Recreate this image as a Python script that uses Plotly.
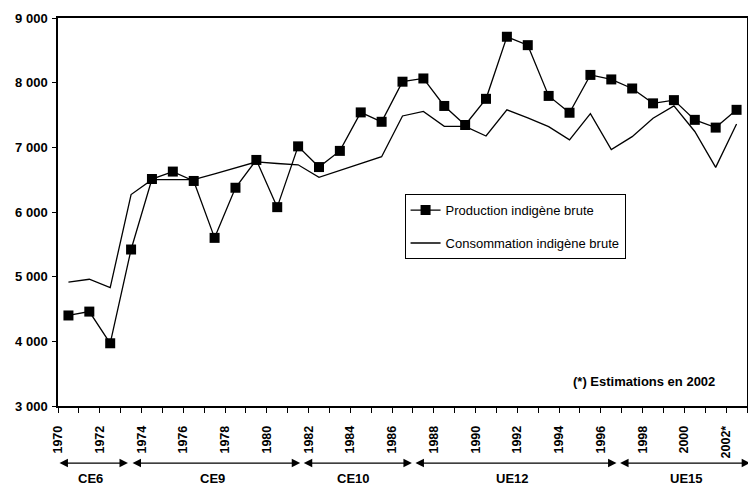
import plotly.graph_objects as go

years = list(range(1970, 2003))
production = [4400, 4460, 3970, 5420, 6510, 6625, 6480, 5600, 6375, 6805, 6075, 7015,
              6695, 6945, 7540, 7395, 8015, 8065, 7640, 7345, 7750, 8710, 8580, 7795,
              7535, 8120, 8050, 7910, 7680, 7730, 7425, 7305, 7580]
consommation = [4915, 4960, 4830, 6270, 6500, 6500, 6500, 6590, 6680, 6775, 6750, 6730,
                6535, 6640, 6750, 6855, 7485, 7555, 7325, 7325, 7175, 7580, 7455, 7320,
                7115, 7520, 6965, 7165, 7450, 7640, 7245, 6690, 7360]

label_years = list(range(1970, 2003, 2))
tick_labels = [str(y) for y in label_years[:-1]] + ["2002*"]
y_ticks = [3000, 4000, 5000, 6000, 7000, 8000, 9000]

eras = ["CE6", "CE9", "CE10", "UE12", "UE15"]
era_start = [1969.5, 1973.0, 1981.2, 1986.55, 1996.35]
era_end = [1972.85, 1981.1, 1986.45, 1996.25, 2002.65]
era_label_x = [1971.05, 1976.9, 1983.65, 1991.25, 1999.6]

FONT = "Liberation Sans, Arial, sans-serif"

fig = go.Figure()
fig.add_trace(go.Scatter(
    x=years, y=production, mode="lines+markers", name="Production indigène brute",
    line=dict(color="black", width=1.3), legendgroup="prod",
    marker=dict(symbol="square", size=10, color="black"),
))
fig.add_trace(go.Scatter(
    x=years, y=consommation, mode="lines", name="Consommation indigène brute",
    line=dict(color="black", width=1.3), legendgroup="cons",
))

tickvals = [y - 0.5 for y in years] + [years[-1] + 0.5]
ticktext = []
for tv in tickvals:
    yr = int(tv + 0.5)
    if yr in label_years:
        ticktext.append(tick_labels[label_years.index(yr)])
    else:
        ticktext.append("")

# page body has an 8px margin: figure is sized/offset to compensate
fig.update_layout(
    width=748, height=477,
    margin=dict(l=50, r=9, t=10, b=79),
    plot_bgcolor="white", paper_bgcolor="white",
    separators=", ",
    font=dict(family=FONT, color="black"),
    showlegend=True,
    legend=dict(
        x=0.503, y=0.546, xanchor="left", yanchor="top",
        bgcolor="white", bordercolor="black", borderwidth=1,
        font=dict(family=FONT, size=13, color="black"),
        traceorder="grouped", tracegroupgap=13, itemwidth=30,
    ),
    xaxis=dict(
        range=[years[0] - 0.5, years[-1] + 0.5],
        tickmode="array", tickvals=tickvals, ticktext=ticktext,
        tickangle=-90, ticks="outside", ticklen=5, tickwidth=1.3, tickcolor="black",
        showline=True, linecolor="black", linewidth=1.5, mirror=True,
        showgrid=False, zeroline=False,
        tickfont=dict(family=FONT, size=12.5, color="black", weight="bold"),
        ticklabelstandoff=8,
        automargin=False,
    ),
    yaxis=dict(
        range=[3000, 9000], tickmode="array", tickvals=y_ticks,
        tickformat=",.0f",
        ticks="outside", ticklen=4, tickwidth=1.3, tickcolor="black",
        showline=True, linecolor="black", linewidth=1.5, mirror=True,
        showgrid=False, zeroline=False,
        tickfont=dict(family=FONT, size=13, color="black", weight="bold"),
        ticklabelstandoff=2,
        automargin=False,
    ),
)

for name, s, e, lx in zip(eras, era_start, era_end, era_label_x):
    fig.add_annotation(
        x=e, y=-0.147, ax=s, ay=0, xref="x", yref="paper", axref="x", ayref="pixel",
        text="", showarrow=True, arrowhead=2, arrowside="end+start",
        arrowsize=1.3, arrowwidth=1.3, arrowcolor="black",
    )
    fig.add_annotation(
        x=lx, y=-0.187, xref="x", yref="paper", text=name, showarrow=False,
        font=dict(family=FONT, size=13, color="black", weight="bold"),
        yanchor="middle", borderpad=0,
    )

fig.add_annotation(
    x=0.956, y=0.062, xref="paper", yref="paper", xanchor="right", yanchor="middle",
    text="(*) Estimations en 2002", showarrow=False,
    font=dict(family=FONT, size=13, color="black", weight="bold"),
)

fig.write_html("out.html")
